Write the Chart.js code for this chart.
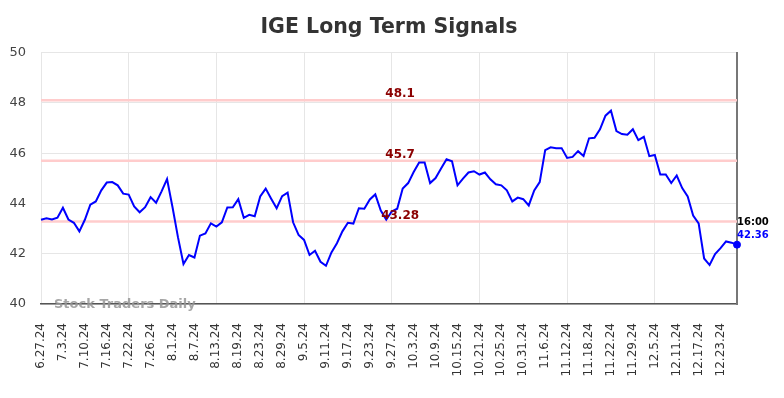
<!DOCTYPE html>
<html lang="en">
<head>
  <meta charset="UTF-8" />
  <title>IGE Long Term Signals</title>
  <script src="https://cdn.jsdelivr.net/npm/chart.js"></script>
  <style>
    body {
      margin: 0;
      padding: 0;
      background: #fff;
    }

    .chart-container {
      width: 784px;
      height: 398px;
    }
  </style>
</head>
<body>
  <div class="chart-container">
    <canvas id="signalChart"></canvas>
  </div>

  <script>
    // trading days (labels shown every 4th day)
    const dates = [
      '6.27.24', '6.28.24',
      '7.1.24', '7.2.24', '7.3.24', '7.5.24', '7.8.24', '7.9.24', '7.10.24', '7.11.24', '7.12.24',
      '7.15.24', '7.16.24', '7.17.24', '7.18.24', '7.19.24', '7.22.24', '7.23.24', '7.24.24',
      '7.25.24', '7.26.24', '7.29.24', '7.30.24', '7.31.24',
      '8.1.24', '8.2.24', '8.5.24', '8.6.24', '8.7.24', '8.8.24', '8.9.24', '8.12.24', '8.13.24',
      '8.14.24', '8.15.24', '8.16.24', '8.19.24', '8.20.24', '8.21.24', '8.22.24', '8.23.24',
      '8.26.24', '8.27.24', '8.28.24', '8.29.24', '8.30.24',
      '9.3.24', '9.4.24', '9.5.24', '9.6.24', '9.9.24', '9.10.24', '9.11.24', '9.12.24', '9.13.24',
      '9.16.24', '9.17.24', '9.18.24', '9.19.24', '9.20.24', '9.23.24', '9.24.24', '9.25.24',
      '9.26.24', '9.27.24', '9.30.24',
      '10.1.24', '10.2.24', '10.3.24', '10.4.24', '10.7.24', '10.8.24', '10.9.24', '10.10.24',
      '10.11.24', '10.14.24', '10.15.24', '10.16.24', '10.17.24', '10.18.24', '10.21.24',
      '10.22.24', '10.23.24', '10.24.24', '10.25.24', '10.28.24', '10.29.24', '10.30.24', '10.31.24',
      '11.1.24', '11.4.24', '11.5.24', '11.6.24', '11.7.24', '11.8.24', '11.11.24', '11.12.24',
      '11.13.24', '11.14.24', '11.15.24', '11.18.24', '11.19.24', '11.20.24', '11.21.24',
      '11.22.24', '11.25.24', '11.26.24', '11.27.24', '11.29.24',
      '12.2.24', '12.3.24', '12.4.24', '12.5.24', '12.6.24', '12.9.24', '12.10.24', '12.11.24',
      '12.12.24', '12.13.24', '12.16.24', '12.17.24', '12.18.24', '12.19.24', '12.20.24',
      '12.23.24', '12.24.24', '12.26.24', '12.27.24'
    ];

    // closing prices
    const closes = [
      43.35, 43.41, 43.36, 43.43, 43.83, 43.36, 43.23, 42.89, 43.35, 43.95,
      44.08, 44.52, 44.83, 44.85, 44.72, 44.39, 44.35, 43.88, 43.65, 43.85,
      44.25, 44.03, 44.48, 44.97, 43.85, 42.65, 41.59, 41.95, 41.85, 42.72,
      42.81, 43.21, 43.08, 43.25, 43.84, 43.85, 44.17, 43.43, 43.55, 43.49,
      44.28, 44.59, 44.19, 43.81, 44.29, 44.43, 43.25, 42.75, 42.55, 41.95,
      42.12, 41.68, 41.52, 42.05, 42.42, 42.89, 43.23, 43.20, 43.81, 43.79,
      44.16, 44.36, 43.72, 43.36, 43.68, 43.79, 44.59, 44.81, 45.25, 45.63,
      45.63, 44.81, 45.01, 45.39, 45.76, 45.68, 44.72, 44.99, 45.23, 45.28,
      45.15, 45.23, 44.96, 44.76, 44.72, 44.52, 44.08, 44.23, 44.17, 43.92,
      44.52, 44.85, 46.12, 46.23, 46.20, 46.20, 45.81, 45.85, 46.08, 45.89,
      46.59, 46.61, 46.95, 47.49, 47.69, 46.88, 46.76, 46.73, 46.95, 46.52,
      46.65, 45.88, 45.93, 45.15, 45.15, 44.81, 45.11, 44.61, 44.28, 43.52,
      43.21, 41.81, 41.55, 41.99, 42.22, 42.49, 42.44, 42.36
    ];

    // signal levels
    const levels = [48.1, 45.7, 43.28];
    const levelLabels = ['48.1', '45.7', '43.28'];

    const yTicks = [40, 42, 44, 46, 48, 50];
    const lastTime = '16:00';
    const lastPrice = '42.36';
    const watermark = 'Stock Traders Daily';

    Chart.defaults.font.family = '"DejaVu Sans", sans-serif';

    // level lines under the price line
    const levelLines = {
      id: 'levelLines',
      beforeDatasetsDraw(chart) {
        const { ctx, chartArea, scales } = chart;
        ctx.save();
        ctx.strokeStyle = '#ffcccc';
        ctx.lineWidth = 2.5;
        levels.forEach(v => {
          const y = scales.y.getPixelForValue(v);
          ctx.beginPath();
          ctx.moveTo(chartArea.left, y);
          ctx.lineTo(chartArea.right, y);
          ctx.stroke();
        });
        ctx.restore();
      },
      afterDatasetsDraw(chart) {
        const { ctx, chartArea, scales } = chart;
        ctx.save();

        // level labels
        ctx.font = 'bold 12px "DejaVu Sans"';
        ctx.fillStyle = '#8b0000';
        ctx.textAlign = 'center';
        ctx.textBaseline = 'alphabetic';
        const cx = chartArea.left + (chartArea.right - chartArea.left) * 0.516;
        levels.forEach((v, i) => {
          ctx.fillText(levelLabels[i], cx, scales.y.getPixelForValue(v) - 3);
        });

        // last value labels
        const last = closes.length - 1;
        const px = scales.x.getPixelForValue(last);
        const py = scales.y.getPixelForValue(closes[last]);
        ctx.textAlign = 'left';
        ctx.font = 'bold 10px "DejaVu Sans"';
        ctx.fillStyle = '#000';
        ctx.fillText(lastTime, px, py - 20);
        ctx.fillStyle = '#0000ff';
        ctx.fillText(lastPrice, px, py - 7);

        // watermark
        ctx.font = 'bold 13px "DejaVu Sans"';
        ctx.fillStyle = 'rgba(150, 150, 150, 0.85)';
        ctx.fillText(watermark, chartArea.left + 13, chartArea.bottom + 3.5);
        ctx.restore();
      }
    };

    const ctx = document.getElementById('signalChart').getContext('2d');
    new Chart(ctx, {
      type: 'line',
      data: {
        labels: dates,
        datasets: [{
          data: closes,
          borderColor: '#0000ff',
          borderWidth: 2,
          tension: 0,
          clip: false,
          pointRadius: c => (c.dataIndex === closes.length - 1 ? 3.5 : 0),
          pointBackgroundColor: '#0000ff',
          pointBorderColor: '#0000ff',
          pointBorderWidth: 1
        }]
      },
      options: {
        responsive: true,
        maintainAspectRatio: false,
        animation: false,
        layout: {
          padding: { left: 0, right: 6, top: 0, bottom: 0 }
        },
        plugins: {
          legend: { display: false },
          tooltip: { enabled: false },
          title: {
            display: true,
            text: 'IGE Long Term Signals',
            color: '#333',
            font: { size: 20.5, weight: 'bold' },
            padding: { top: 15, bottom: 13 }
          }
        },
        scales: {
          x: {
            grid: {
              color: c => (c.index % 4 === 0 ? '#e6e6e6' : 'transparent'),
              drawTicks: false
            },
            border: { display: true, color: '#555', width: 1.5 },
            ticks: {
              autoSkip: false,
              maxRotation: 90,
              minRotation: 90,
              padding: 19,
              color: '#333',
              font: { size: 12 },
              callback: (v, i) => (i % 4 === 0 ? dates[i] : null)
            },
            afterFit: s => { s.height = 94; }
          },
          y: {
            min: 40,
            max: 50,
            afterBuildTicks: s => { s.ticks = yTicks.map(v => ({ value: v })); },
            grid: { color: '#e6e6e6', drawTicks: false },
            border: { display: false },
            ticks: {
              padding: 15,
              color: '#444',
              font: { size: 13 }
            },
            afterFit: s => { s.width = 41; }
          },
          y2: {
            position: 'right',
            display: true,
            grid: { display: false, drawTicks: false },
            border: { display: true, color: '#777', width: 2 },
            ticks: { display: false },
            afterFit: s => { s.width = 41; }
          }
        }
      },
      plugins: [levelLines]
    });
  </script>
</body>
</html>
